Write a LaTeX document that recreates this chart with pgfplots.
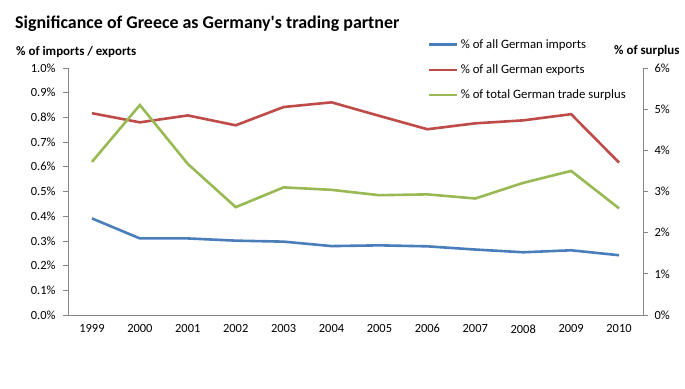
\documentclass[border=0pt]{standalone}
\usepackage{fontspec}
\setmainfont{Carlito}
\usepackage{pgfplots}
\pgfplotsset{compat=1.18}
\definecolor{cblue}{HTML}{4A7EBB}
\definecolor{cred}{HTML}{BE4B48}
\definecolor{cgreen}{HTML}{98B954}
\definecolor{axgray}{HTML}{868686}
\begin{document}
\begin{tikzpicture}[x=1bp,y=1bp]
\path[use as bounding box] (0,0) rectangle (685,388);
\node[anchor=base west,inner sep=0] at (15,360) {\fontsize{18}{20}\selectfont\bfseries Significance of Greece as Germany\textquotesingle s trading partner};
\node[anchor=base west,inner sep=0] at (16,333) {\fontsize{13}{15}\selectfont\bfseries \% of imports / exports};
\node[anchor=base west,inner sep=0] at (614,334) {\fontsize{13}{15}\selectfont\bfseries \% of surplus};
\begin{axis}[
  at={(68bp,73bp)}, anchor=south west,
  width=575bp, height=247bp, scale only axis,
  xmin=-0.5, xmax=11.5, ymin=0, ymax=1.0,
  axis y line*=left, axis x line*=bottom,
  axis line style={axgray, line width=0.8bp, -},
  xtick={0,...,11},
  xticklabels={1999,2000,2001,2002,2003,2004,2005,2006,2007,2008,2009,2010},
  minor xtick={-0.5,0.5,...,11.5},
  x tick style={draw=none},
  minor x tick style={axgray, line width=0.8bp},
  ytick={0,0.1,...,1.0},
  y tick style={axgray, line width=0.8bp},
  tick align=outside, major tick length=5bp, minor tick length=5bp,
  yticklabel={\pgfmathprintnumber[fixed,fixed zerofill,precision=1]{\tick}\%},
  /pgf/number format/assume math mode=true,
  ticklabel style={font=\fontsize{12.5}{14}\selectfont, text=black},
  xticklabel style={yshift=-1bp},
  yticklabel style={xshift=-4bp},
  legend style={at={(0.626,1.125)}, anchor=north west, draw=none, fill=none,
    font=\fontsize{12.8}{15}\selectfont, row sep=11bp, inner sep=0pt,
    /tikz/every even column/.append style={column sep=1bp}},
  legend cell align=left,
  legend image code/.code={\draw[#1, line width=2.6bp] (0,0) -- (28bp,0);},
]
\addplot[cblue, line width=2.6bp] coordinates {
(0,0.391) (1,0.310) (2,0.310) (3,0.301) (4,0.297) (5,0.279)
(6,0.282) (7,0.278) (8,0.265) (9,0.254) (10,0.262) (11,0.242)};
\addlegendentry{\% of all German imports}
\addplot[cred, line width=2.6bp] coordinates {
(0,0.817) (1,0.780) (2,0.808) (3,0.768) (4,0.842) (5,0.861)
(6,0.806) (7,0.752) (8,0.776) (9,0.788) (10,0.813) (11,0.617)};
\addlegendentry{\% of all German exports}
\addlegendimage{cgreen, line width=2.6bp}
\addlegendentry{\% of total German trade surplus}
\end{axis}
\begin{axis}[
  at={(68bp,73bp)}, anchor=south west,
  width=575bp, height=247bp, scale only axis,
  xmin=-0.5, xmax=11.5, ymin=0, ymax=6,
  axis y line*=right, axis x line=none,
  axis line style={axgray, line width=0.8bp, -},
  ytick={0,1,...,6},
  y tick style={axgray, line width=0.8bp},
  tick align=outside, major tick length=5bp,
  yticklabel={\pgfmathprintnumber{\tick}\%},
  /pgf/number format/assume math mode=true,
  ticklabel style={font=\fontsize{12.5}{14}\selectfont, text=black},
  yticklabel style={xshift=3bp},
]
\addplot[cgreen, line width=2.6bp] coordinates {
(0,3.72) (1,5.10) (2,3.67) (3,2.62) (4,3.10) (5,3.04)
(6,2.91) (7,2.93) (8,2.83) (9,3.21) (10,3.50) (11,2.59)};
\end{axis}
\end{tikzpicture}
\end{document}
